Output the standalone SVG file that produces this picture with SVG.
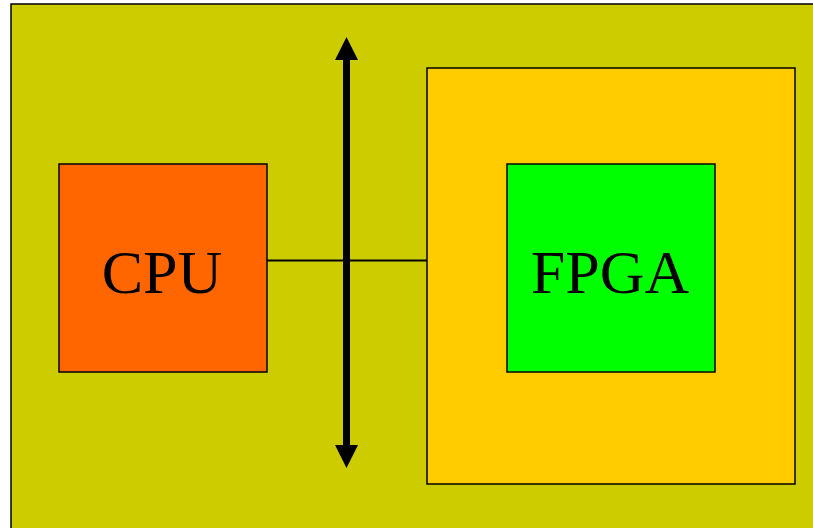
<svg xmlns="http://www.w3.org/2000/svg" width="813" height="528" viewBox="0 0 813 528">
  <style>
    .box { stroke: #000; stroke-width: 1.5; }
    .label { font-family: "Liberation Serif", "Times New Roman", serif; font-size: 62px; fill: #000; text-anchor: middle; }
  </style>
  <rect width="813" height="528" fill="#fff"/>
  <!-- board background -->
  <g id="board">
    <rect class="box" x="11" y="4" width="812" height="534" fill="#cccc00" stroke-width="2"/>
  </g>
  <!-- connectors -->
  <g id="connectors">
    <line x1="267" y1="260.5" x2="427" y2="260.5" stroke="#000" stroke-width="2"/>
    <line x1="346.5" y1="58" x2="346.5" y2="447" stroke="#000" stroke-width="7"/>
    <polygon points="346.5,37 335,60 358,60" fill="#000"/>
    <polygon points="346.5,468 335,445 358,445" fill="#000"/>
  </g>
  <g id="cpu">
    <rect class="box" x="59" y="164" width="208" height="208" fill="#ff6600"/>
    <text class="label" x="162" y="293">CPU</text>
  </g>
  <g id="fpga-board">
    <rect class="box" x="427" y="68" width="368" height="416" fill="#ffcc00"/>
  </g>
  <g id="fpga">
    <rect class="box" x="507" y="164" width="208" height="208" fill="#00ff00"/>
    <text class="label" x="610" y="293">FPGA</text>
  </g>
</svg>
